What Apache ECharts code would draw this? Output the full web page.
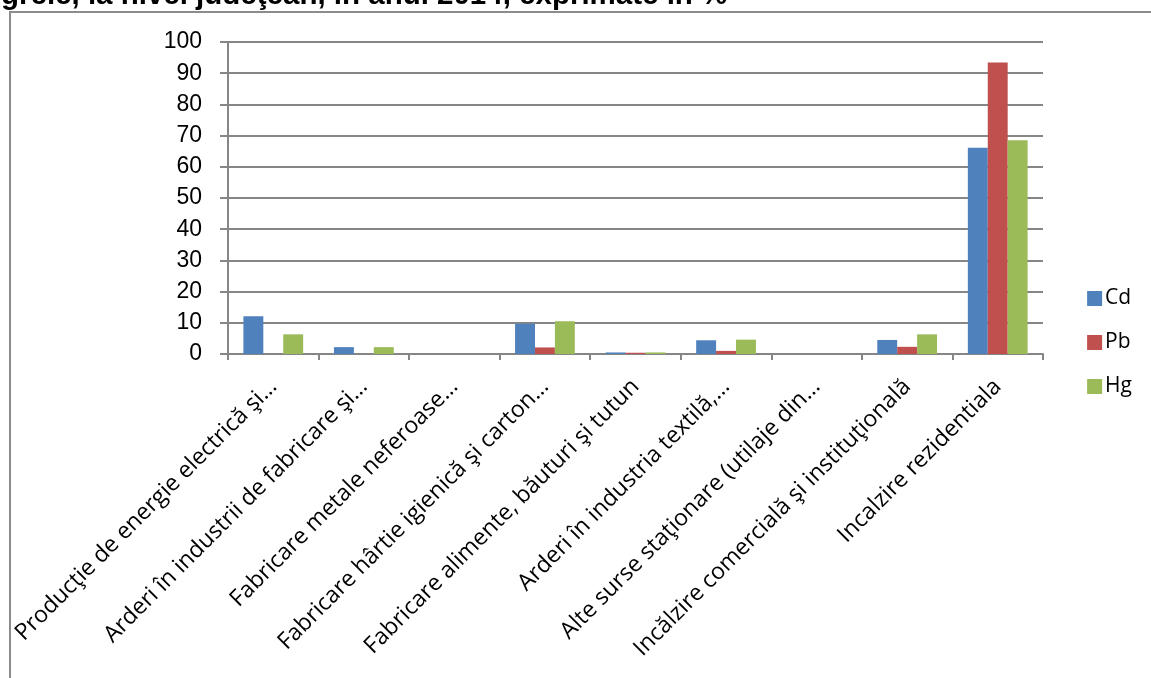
<!DOCTYPE html>
<html><head><meta charset="utf-8">
<script src="https://cdn.jsdelivr.net/npm/echarts@6/dist/echarts.min.js"></script>
<style>html,body{margin:0;padding:0;background:#fff}#c{width:1151px;height:678px}</style>
</head><body><div id="c"></div>
<script>
const titleText = "grele, la nivel judeţean, în anul 2014, exprimate în %";
const categories = [
  "Producţie de energie electrică şi…",
  "Arderi în industrii de fabricare şi…",
  "Fabricare metale neferoase…",
  "Fabricare hârtie igienică şi carton…",
  "Fabricare alimente, băuturi şi tutun",
  "Arderi în industria textilă,…",
  "Alte surse staţionare (utilaje din…",
  "Incălzire comercială şi instituţională",
  "Incalzire rezidentiala"
];
const seriesNames = ["Cd", "Pb", "Hg"];
const cd = [12.1, 2.2, 0, 9.7, 0.5, 4.4, 0, 4.5, 66.1];
const pb = [0, 0, 0, 2.1, 0.4, 1.0, 0, 2.3, 93.4];
const hg = [6.3, 2.2, 0, 10.5, 0.5, 4.6, 0, 6.3, 68.5];
const yTicks = {min: 0, max: 100, interval: 10};
const colors = ["#4F81BD", "#C0504D", "#9BBB59"];

const chart = echarts.init(document.getElementById('c'), null, {renderer: 'canvas'});
const values = [cd, pb, hg];
chart.setOption({
  animation: false,
  color: colors,
  graphic: [
    {type: 'rect', shape: {x: 10, y: 12, width: 1160, height: 700}, style: {fill: 'none', stroke: '#8c8c8c', lineWidth: 2}, silent: true},
    {type: 'text', x: 1, y: -19, style: {text: titleText, font: 'bold 29.5px "Liberation Sans", Arial, sans-serif', fill: '#000'}, silent: true}
  ],
  legend: {
    orient: 'vertical', right: 14, top: 283, itemWidth: 15, itemHeight: 15, itemGap: 23,
    icon: 'rect',
    textStyle: {fontFamily: '"Open Sans", sans-serif', fontSize: 21, color: '#000', padding: [0,0,0,-2]},
    data: seriesNames
  },
  grid: {left: 228, right: 108, top: 42, bottom: 324, containLabel: false},
  xAxis: {
    type: 'category', data: categories,
    axisLine: {lineStyle: {color: '#868686', width: 2}},
    axisTick: {show: true, length: 6, alignWithLabel: false, lineStyle: {color: '#868686', width: 2}},
    axisLabel: {rotate: 45, interval: 0, margin: 29, color: '#000', fontFamily: '"Open Sans", sans-serif', fontSize: 23}
  },
  yAxis: {
    type: 'value', min: yTicks.min, max: yTicks.max, interval: yTicks.interval,
    axisLine: {show: true, lineStyle: {color: '#868686', width: 2}},
    axisTick: {show: true, length: 8, lineStyle: {color: '#868686', width: 2}},
    splitLine: {lineStyle: {color: '#868686', width: 2}},
    axisLabel: {color: '#000', fontFamily: '"Liberation Sans", Arial, sans-serif', fontSize: 23, margin: 26}
  },
  series: seriesNames.map((n, i) => ({
    name: n, type: 'bar', data: values[i], barGap: '0%', barCategoryGap: '34%',
    itemStyle: {color: colors[i]}
  }))
});
</script></body></html>
